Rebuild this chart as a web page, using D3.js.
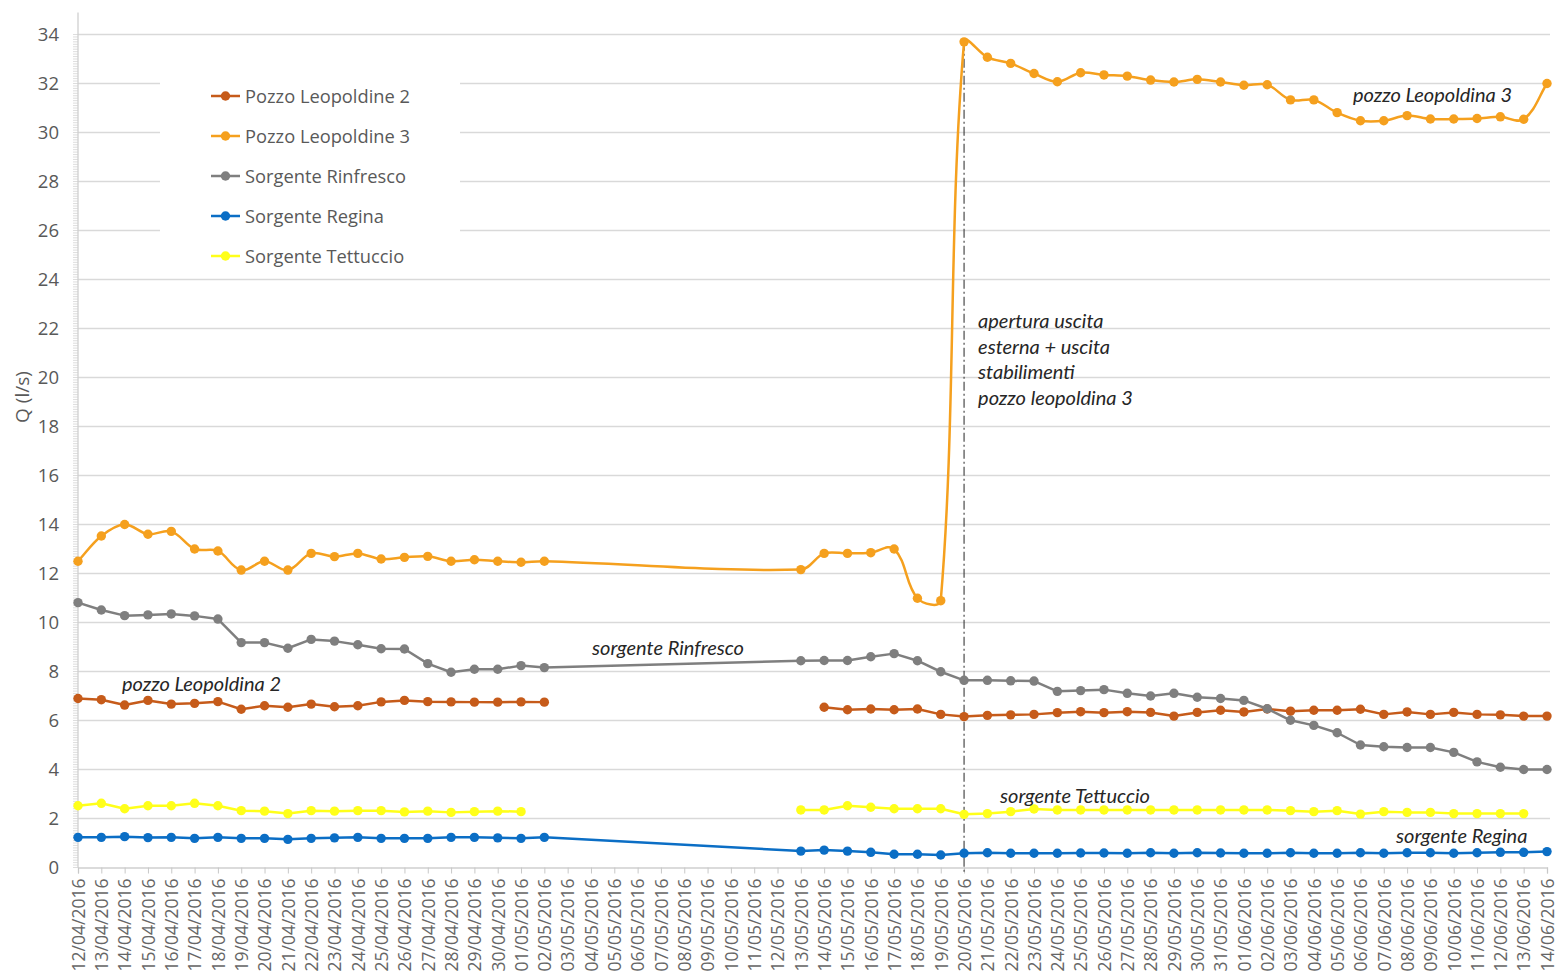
<!DOCTYPE html>
<html>
<head>
<meta charset="utf-8">
<script src="https://cdn.jsdelivr.net/npm/d3@7"></script>
<style>
  body { margin: 0; background: #fff; }
  svg { display: block; }
</style>
</head>
<body>
<svg id="chart" width="1560" height="976"></svg>
<script>
// Daily categories on the x axis
const dates = [
  "12/04/2016","13/04/2016","14/04/2016","15/04/2016","16/04/2016","17/04/2016","18/04/2016",
  "19/04/2016","20/04/2016","21/04/2016","22/04/2016","23/04/2016","24/04/2016","25/04/2016",
  "26/04/2016","27/04/2016","28/04/2016","29/04/2016","30/04/2016","01/05/2016","02/05/2016",
  "03/05/2016","04/05/2016","05/05/2016","06/05/2016","07/05/2016","08/05/2016","09/05/2016",
  "10/05/2016","11/05/2016","12/05/2016","13/05/2016","14/05/2016","15/05/2016","16/05/2016",
  "17/05/2016","18/05/2016","19/05/2016","20/05/2016","21/05/2016","22/05/2016","23/05/2016",
  "24/05/2016","25/05/2016","26/05/2016","27/05/2016","28/05/2016","29/05/2016","30/05/2016",
  "31/05/2016","01/06/2016","02/06/2016","03/06/2016","04/06/2016","05/06/2016","06/06/2016",
  "07/06/2016","08/06/2016","09/06/2016","10/06/2016","11/06/2016","12/06/2016","13/06/2016",
  "14/06/2016"
];

const yTicks = [0, 2, 4, 6, 8, 10, 12, 14, 16, 18, 20, 22, 24, 26, 28, 30, 32, 34];

// Discharge Q (l/s); null = no measurement that day
const gap10 = [null, null, null, null, null, null, null, null, null, null];

const pozzoLeopoldine2 = [
  6.9, 6.85, 6.63, 6.82, 6.67, 6.7, 6.77, 6.46, 6.6, 6.54, 6.67, 6.56, 6.6, 6.76, 6.82, 6.77,
  6.76, 6.75, 6.75, 6.76, 6.75,
  ...gap10, null,
  6.54, 6.44, 6.47, 6.44, 6.47, 6.25, 6.16, 6.21, 6.23,
  6.25, 6.32, 6.36, 6.32, 6.36, 6.33, 6.18, 6.33, 6.42, 6.35, 6.47, 6.38, 6.42, 6.42, 6.46,
  6.25, 6.35, 6.25, 6.33, 6.25, 6.23, 6.18, 6.18
];

const pozzoLeopoldine3 = [
  12.5, 13.53, 14.0, 13.6, 13.72, 13.0, 12.92, 12.14, 12.5, 12.14, 12.82, 12.69, 12.82, 12.59,
  12.66, 12.7, 12.5, 12.56, 12.5, 12.46, 12.5,
  ...gap10,
  12.16, 12.82, 12.82, 12.85, 13.0, 10.99, 10.89,
  33.7, 33.07, 32.82, 32.41, 32.07, 32.44, 32.35, 32.3, 32.14, 32.06, 32.17, 32.06, 31.93,
  31.95, 31.33, 31.33, 30.81, 30.48, 30.48, 30.69, 30.55, 30.55, 30.57, 30.64, 30.54, 32.0
];

const sorgenteRinfresco = [
  10.81, 10.51, 10.28, 10.31, 10.35, 10.27, 10.14, 9.18, 9.18, 8.95, 9.31, 9.24, 9.09, 8.93,
  8.92, 8.32, 7.97, 8.09, 8.09, 8.24, 8.16,
  ...gap10,
  8.44, 8.45, 8.45, 8.6, 8.73, 8.44, 7.99, 7.64, 7.64, 7.62,
  7.61, 7.19, 7.22, 7.26, 7.11, 7.0, 7.11, 6.95, 6.9, 6.82, 6.48, 6.01, 5.8, 5.5, 5.0, 4.93,
  4.9, 4.9, 4.7, 4.31, 4.09, 4.0, 4.0
];

const sorgenteRegina = [
  1.23, 1.23, 1.26, 1.22, 1.23, 1.19, 1.23, 1.19, 1.19, 1.15, 1.19, 1.21, 1.23, 1.19, 1.19,
  1.19, 1.23, 1.23, 1.21, 1.19, 1.23,
  ...gap10,
  0.67, 0.71, 0.67, 0.62, 0.54, 0.54, 0.51, 0.58, 0.6, 0.58,
  0.58, 0.58, 0.59, 0.59, 0.58, 0.6, 0.58, 0.6, 0.59, 0.58, 0.58, 0.6, 0.58, 0.58, 0.6, 0.58,
  0.6, 0.6, 0.58, 0.6, 0.62, 0.62, 0.65
];

const sorgenteTettuccio = [
  2.52, 2.62, 2.4, 2.52, 2.52, 2.62, 2.52, 2.32, 2.3, 2.2, 2.32, 2.3, 2.32, 2.32, 2.27, 2.3,
  2.25, 2.28, 2.3, 2.28,
  ...gap10, null,
  2.35, 2.35, 2.52, 2.46, 2.4, 2.4, 2.4, 2.17, 2.2, 2.28,
  2.39, 2.35, 2.35, 2.35, 2.35, 2.35, 2.35, 2.35, 2.35, 2.35, 2.35, 2.32, 2.28, 2.32, 2.18,
  2.28, 2.25, 2.25, 2.2, 2.2, 2.2, 2.2, null
];

const seriesNames = ["Pozzo Leopoldine 2", "Pozzo Leopoldine 3", "Sorgente Rinfresco",
                     "Sorgente Regina", "Sorgente Tettuccio"];
const seriesValues = [pozzoLeopoldine2, pozzoLeopoldine3, sorgenteRinfresco,
                      sorgenteRegina, sorgenteTettuccio];
const seriesColors = ["#C65B1A", "#F5A01E", "#7F7F7F", "#0B6EC5", "#FFFF1A"];
// whether the line is carried across days without measurements
const seriesBridge = [false, true, true, true, false];
const seriesSmooth = [false, true, false, false, false];

const eventDate = "20/05/2016";
const eventNote = ["apertura uscita", "esterna + uscita", "stabilimenti", "pozzo leopoldina 3"];

const svg = d3.select("#chart");
const plotLeft = 78, plotRight = 1547, plotTop = 34.5, plotBottom = 867.5;

const x = d3.scalePoint().domain(dates).range([plotLeft, plotRight]);
const y = d3.scaleLinear().domain([0, 34]).range([plotBottom, plotTop]);

const gray = "#595959";
const sans = "'Open Sans', 'Noto Sans', sans-serif";
const italic = "Lato, 'Open Sans', sans-serif";

// Smoothed curve: cubic Bézier per segment, tangent along the neighbours' chord,
// handle length a third of the segment (keeps long jumps from bulging).
function curveSmoothChord(context) {
  let pts = [];
  return {
    areaStart() {}, areaEnd() {},
    lineStart() { pts = []; },
    point(px, py) { pts.push([+px, +py]); },
    lineEnd() {
      const n = pts.length;
      if (!n) return;
      context.moveTo(pts[0][0], pts[0][1]);
      const unit = (a, b) => {
        const dx = b[0] - a[0], dy = b[1] - a[1], l = Math.hypot(dx, dy) || 1;
        return [dx / l, dy / l];
      };
      for (let i = 0; i < n - 1; i++) {
        const p0 = pts[Math.max(0, i - 1)], p1 = pts[i], p2 = pts[i + 1],
              p3 = pts[Math.min(n - 1, i + 2)];
        const seg = Math.hypot(p2[0] - p1[0], p2[1] - p1[1]) / 3;
        const t1 = unit(p0, p2), t2 = unit(p1, p3);
        context.bezierCurveTo(
          p1[0] + t1[0] * seg, p1[1] + t1[1] * seg,
          p2[0] - t2[0] * seg, p2[1] - t2[1] * seg,
          p2[0], p2[1]);
      }
    }
  };
}

// horizontal gridlines
svg.append("g")
  .selectAll("line")
  .data(yTicks.filter(d => d > 0))
  .join("line")
  .attr("x1", plotLeft).attr("x2", plotRight + 3)
  .attr("y1", d => y(d)).attr("y2", d => y(d))
  .attr("stroke", "#d9d9d9").attr("stroke-width", 1.3);

// y axis with dense minor ticks
const yAxisG = svg.append("g");
yAxisG.selectAll("line.minor")
  .data(d3.range(0, 341).map(i => i / 10))
  .join("line")
  .attr("class", "minor")
  .attr("x1", plotLeft - 5).attr("x2", plotLeft)
  .attr("y1", d => y(d)).attr("y2", d => y(d))
  .attr("stroke", "#d4d4d4").attr("stroke-width", 0.8);
yAxisG.append("line")
  .attr("x1", plotLeft).attr("x2", plotLeft)
  .attr("y1", y(34) - 22).attr("y2", plotBottom)
  .attr("stroke", "#d0d0d0").attr("stroke-width", 1.3);
yAxisG.selectAll("text")
  .data(yTicks)
  .join("text")
  .attr("x", plotLeft - 19).attr("y", d => y(d))
  .attr("dy", "0.36em")
  .attr("text-anchor", "end")
  .attr("font-family", sans).attr("font-size", 18.5)
  .attr("fill", gray)
  .text(d => d);

svg.append("text")
  .attr("transform", `translate(29, ${(y(20) + y(18)) / 2 - 5}) rotate(-90)`)
  .attr("text-anchor", "middle")
  .attr("font-family", sans).attr("font-size", 19)
  .attr("fill", gray)
  .text("Q (l/s)");

// x axis
const xAxis = d3.axisBottom(x).tickSize(6).tickPadding(4);
const xAxisG = svg.append("g")
  .attr("transform", `translate(0, ${plotBottom})`)
  .call(xAxis);
xAxisG.select(".domain").attr("stroke", "#d0d0d0").attr("stroke-width", 1.3);
xAxisG.selectAll(".tick line").attr("stroke", "#c8c8c8");
xAxisG.selectAll(".tick text")
  .attr("font-family", sans).attr("font-size", 17.5)
  .attr("fill", "#666")
  .attr("transform", "rotate(-90)")
  .attr("text-anchor", "end")
  .attr("x", -11).attr("y", 0).attr("dy", "0.36em");

// event marker (dash-dot vertical line)
svg.append("line")
  .attr("x1", x(eventDate)).attr("x2", x(eventDate))
  .attr("y1", y(33.7)).attr("y2", plotBottom + 5)
  .attr("stroke", "#3a3a3a").attr("stroke-width", 1.1)
  .attr("stroke-dasharray", "9,3,2,3");

// series lines + markers
seriesValues.forEach((vals, k) => {
  const pts = vals.map((v, i) => ({ d: dates[i], v })).filter(p => p.v !== null || !seriesBridge[k]);
  const line = d3.line()
    .defined(p => p.v !== null)
    .x(p => x(p.d)).y(p => y(p.v))
    .curve(seriesSmooth[k] ? curveSmoothChord : d3.curveLinear);
  const g = svg.append("g");
  g.append("path")
    .datum(pts)
    .attr("d", line)
    .attr("fill", "none")
    .attr("stroke", seriesColors[k])
    .attr("stroke-width", 2.5)
    .attr("stroke-linejoin", "round");
  g.selectAll("circle")
    .data(pts.filter(p => p.v !== null))
    .join("circle")
    .attr("cx", p => x(p.d)).attr("cy", p => y(p.v))
    .attr("r", 4.7)
    .attr("fill", seriesColors[k]);
});

// legend
const lg = svg.append("g");
lg.append("rect")
  .attr("x", 160).attr("y", 58).attr("width", 300).attr("height", 214)
  .attr("fill", "#fff");
seriesNames.forEach((name, k) => {
  const cy = 96 + k * 40;
  lg.append("line")
    .attr("x1", 211).attr("x2", 240).attr("y1", cy).attr("y2", cy)
    .attr("stroke", seriesColors[k]).attr("stroke-width", 2.5);
  lg.append("circle").attr("cx", 225.5).attr("cy", cy).attr("r", 4.7)
    .attr("fill", seriesColors[k]);
  lg.append("text")
    .attr("x", 245).attr("y", cy).attr("dy", "0.36em")
    .attr("font-family", sans).attr("font-size", 18.3)
    .attr("fill", gray)
    .text(name);
});

// series annotations
const notes = [
  { t: "pozzo Leopoldina 2", x: 122, y: 691 },
  { t: "sorgente Rinfresco", x: 592, y: 655 },
  { t: "sorgente Tettuccio", x: 1000, y: 803 },
  { t: "sorgente Regina", x: 1396, y: 843 },
  { t: "pozzo Leopoldina 3", x: 1353, y: 102 }
];
svg.append("g")
  .selectAll("text")
  .data(notes)
  .join("text")
  .attr("x", d => d.x).attr("y", d => d.y)
  .attr("font-family", italic).attr("font-style", "italic")
  .attr("font-size", 20)
  .attr("fill", "#262626")
  .text(d => d.t);

svg.append("g")
  .selectAll("text")
  .data(eventNote)
  .join("text")
  .attr("x", x(eventDate) + 14)
  .attr("y", (d, i) => 328 + i * 25.7)
  .attr("font-family", italic).attr("font-style", "italic")
  .attr("font-size", 20)
  .attr("fill", "#262626")
  .text(d => d);
</script>
</body>
</html>
